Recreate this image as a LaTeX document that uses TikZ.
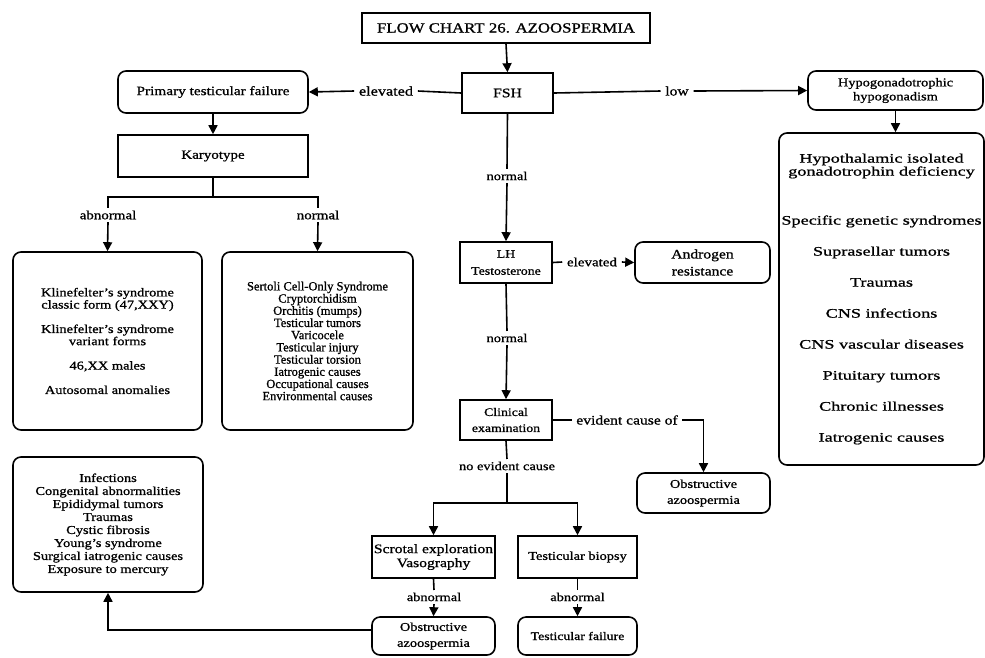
\documentclass[tikz,border=0pt]{standalone}
\usepackage{fontspec}
\setmainfont{Liberation Serif}[FakeStretch=1.2,FakeBold=1]
\newfontfamily\narrowfont{Liberation Serif}[FakeBold=1]
\newfontfamily\widefont{Liberation Serif}[FakeStretch=1.4,FakeBold=1]
\usetikzlibrary{arrows.meta}
\newcommand\fz[2]{\fontsize{#1}{#2}\selectfont}
\begin{document}
\begin{tikzpicture}[x=1pt,y=-1pt,
  line width=1.6pt,
  box/.style={draw, line width=1.6pt, align=center, inner sep=1pt, font=\fz{12.5}{16}},
  rbox/.style={box, rounded corners=8pt},
  lbl/.style={inner xsep=4pt, inner ysep=2pt, font=\fz{12.5}{14}},
  arr/.style={-{Triangle[length=9pt,width=9pt]}},
]
\useasboundingbox (0,0) rectangle (985,657);

% ---- boxes ----
\node[box, minimum width=288pt, minimum height=30pt, font=\fz{14}{16}] (title) at (506,28) {FLOW CHART 26. AZOOSPERMIA};
\node[box, minimum width=91pt, minimum height=40pt, font=\fz{13}{16}] (fsh) at (507.5,93) {FSH};
\node[rbox, minimum width=190pt, minimum height=42pt, font=\fz{12.75}{16}] (ptf) at (213,92) {Primary testicular failure};
\node[box, minimum width=190pt, minimum height=42pt, font=\fz{12.5}{16}] (kary) at (213,156) {Karyotype};
\node[rbox, minimum width=189pt, minimum height=178pt, font=\fz{12}{12.2}] (klin) at (107.5,341)
  {Klinefelter's syndrome\\classic form (47,XXY)\\[12.2pt]Klinefelter's syndrome\\variant forms\\[12.2pt]46,XX males\\[12.2pt]Autosomal anomalies};
\node[rbox, minimum width=191pt, minimum height=178pt, font=\narrowfont\fz{12.5}{12.2}] (sert) at (317.5,341)
  {Sertoli Cell-Only Syndrome\\Cryptorchidism\\Orchitis (mumps)\\Testicular tumors\\Varicocele\\Testicular injury\\Testicular torsion\\Iatrogenic causes\\Occupational causes\\Environmental causes};
\node[rbox, minimum width=190pt, minimum height=135pt, font=\fz{12}{13}] (infect) at (108,524.5)
  {Infections\\Congenital abnormalities\\Epididymal tumors\\Traumas\\Cystic fibrosis\\Young's syndrome\\Surgical iatrogenic causes\\Exposure to mercury};
\node[rbox, minimum width=175pt, minimum height=39pt, font=\fz{12}{14}] (hypo) at (895.5,90.5) {Hypogonadotrophic\\hypogonadism};
\node[rbox, minimum width=205pt, minimum height=332pt, font=\widefont\fz{13}{14}] (list) at (881.5,299)
  {Hypothalamic isolated\\[-1pt]gonadotrophin deficiency\\[35pt]Specific genetic syndromes\\[17pt]Suprasellar tumors\\[17pt]Traumas\\[17pt]CNS infections\\[17pt]CNS vascular diseases\\[17pt]Pituitary tumors\\[17pt]Chronic illnesses\\[17pt]Iatrogenic causes};
\node[box, minimum width=92pt, minimum height=41pt, font=\fz{11.5}{17}] (lh) at (506,262.5) {LH\\Testosterone};
\node[rbox, minimum width=135pt, minimum height=41pt, font=\fz{13}{17}] (andr) at (702.5,262.5) {Androgen\\resistance};
\node[box, minimum width=92pt, minimum height=40pt, font=\fz{11.5}{16}] (clin) at (506,420) {Clinical\\examination};
\node[rbox, minimum width=133pt, minimum height=40pt, font=\fz{12}{16}] (obsA) at (703.5,493) {Obstructive\\azoospermia};
\node[box, minimum width=123pt, minimum height=42pt, font=\fz{13}{14}] (scrot) at (433.5,557) {Scrotal exploration\\Vasography};
\node[box, minimum width=119pt, minimum height=42pt, font=\fz{12}{14}] (biop) at (577.5,557) {Testicular biopsy};
\node[rbox, minimum width=123pt, minimum height=38pt, font=\fz{12}{16}] (obsB) at (433.5,636) {Obstructive\\azoospermia};
\node[rbox, minimum width=119pt, minimum height=38pt, font=\fz{11.5}{14}] (fail) at (577.5,636) {Testicular failure};

% ---- connector labels ----
\node[lbl, font=\fz{13.5}{14}] (elevA) at (386,91) {elevated};
\node[lbl, font=\fz{13}{14}] (low) at (677,91) {low};
\node[lbl, font=\fz{12}{14}] (normA) at (507,176) {normal};
\node[lbl] (abnA) at (108,215) {abnormal};
\node[lbl] (normB) at (318,215) {normal};
\node[lbl] (elevB) at (592,262) {elevated};
\node[lbl, font=\fz{12}{14}] (normC) at (507,338) {normal};
\node[lbl, font=\fz{13}{14}] (evid) at (627,420) {evident cause of};
\node[lbl, font=\fz{12}{14}] (noev) at (507,466) {no evident cause};
\node[lbl, font=\fz{12}{14}] (abnB) at (434,597) {abnormal};
\node[lbl, font=\fz{12}{14}] (abnC) at (577.5,597) {abnormal};

\coordinate (kj) at (213,197);
\coordinate (nj) at (507,503);

% ---- connectors ----
\draw[arr] (title.south) -- (fsh.north);
\draw (fsh.west) -- (elevA.east);
\draw[arr] (elevA.west) -- (ptf.east);
\draw (fsh.east) -- (low.west);
\draw[arr] (low.east) -- (hypo.west);
\draw (fsh.south) -- (normA.north);
\draw[arr] (normA.south) -- (lh.north);
\draw[arr] (ptf.south) -- (kary.north);
\draw (kary.south) -- (kj);
\draw (abnA.north) |- (kj) -| (normB.north);
\draw[arr] (abnA.south) -- (klin.north);
\draw[arr] (normB.south) -- (sert.north);
\draw[arr] (hypo.south) -- (hypo.south |- list.north);
\draw (lh.east) -- (elevB.west);
\draw[arr] (elevB.east) -- (andr.west);
\draw (lh.south) -- (normC.north);
\draw[arr] (normC.south) -- (clin.north);
\draw (clin.east) -- (evid.west);
\draw[arr] (evid.east) -| (obsA.north);
\draw (clin.south) -- (noev.north);
\draw (noev.south) -- (nj);
\draw[arr] (nj) -| (scrot.north);
\draw[arr] (nj) -| (biop.north);
\draw (scrot.south) -- (abnB.north);
\draw[arr] (abnB.south) -- (obsB.north);
\draw (biop.south) -- (abnC.north);
\draw[arr] (abnC.south) -- (fail.north);
\draw[arr] ([yshift=6pt]obsB.west) -| (infect.south);
\end{tikzpicture}
\end{document}
